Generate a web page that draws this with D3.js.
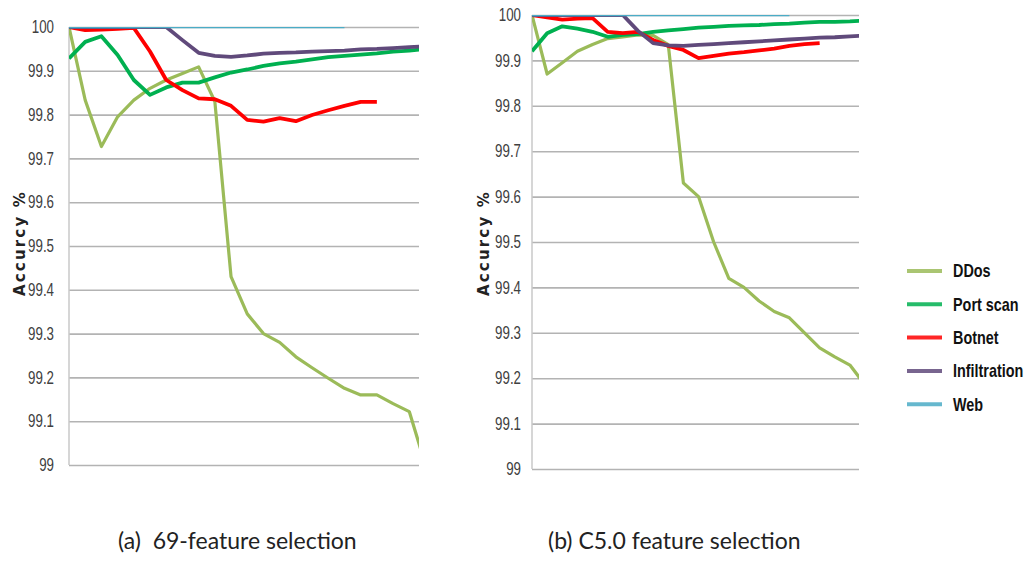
<!DOCTYPE html>
<html>
<head>
<meta charset="utf-8">
<script src="https://cdn.jsdelivr.net/npm/d3@7"></script>
<style>
  body { margin: 0; background: #fff; }
  svg { display: block; }
</style>
</head>
<body>
<div id="chart"></div>
<script>
// feature-selection steps (x categories) and y ticks
const steps = [1, 2, 3, 4, 5, 6, 7, 8, 9, 10, 11, 12, 13, 14, 15, 16, 17, 18, 19, 20, 21, 22, 23];
const yTicks = [99, 99.1, 99.2, 99.3, 99.4, 99.5, 99.6, 99.7, 99.8, 99.9, 100];
const seriesNames = ["DDos", "Port scan", "Botnet", "Infiltration", "Web"];
const seriesColors = ["#9bbb59", "#00b050", "#ff0000", "#604a7b", "#4bacc6"];
const captions = ["(a)  69-feature selection", "(b) C5.0 feature selection"];

// (a) 69-feature selection
const ddosA = [100, 99.833, 99.727, 99.795, 99.833, 99.86, 99.879, 99.894, 99.909, 99.83, 99.43, 99.345, 99.3, 99.28, 99.247, 99.222, 99.198, 99.175, 99.16, 99.16, 99.14, 99.122, 99.0];
const portA = [99.928, 99.966, 99.979, 99.936, 99.879, 99.845, 99.862, 99.873, 99.873, 99.885, 99.896, 99.903, 99.911, 99.917, 99.921, 99.926, 99.931, 99.934, 99.937, 99.94, 99.944, 99.946, 99.95];
const botA = [100, 99.993, 99.994, 99.996, 99.998, 99.944, 99.879, 99.856, 99.837, 99.835, 99.82, 99.788, 99.784, 99.792, 99.785, 99.799, 99.81, 99.82, 99.829, 99.829];
const infA = [100, 100, 100, 100, 100, 100, 100, 99.97, 99.941, 99.934, 99.932, 99.935, 99.939, 99.941, 99.942, 99.944, 99.945, 99.946, 99.949, 99.95, 99.952, 99.954, 99.956];
const webA = [100, 100, 100, 100, 100, 100, 100, 100, 100, 100, 100, 100, 100, 100, 100, 100, 100, 100];

// (b) C5.0 feature selection
const ddosB = [100, 99.87, 99.895, 99.92, 99.935, 99.948, 99.952, 99.956, 99.955, 99.935, 99.63, 99.6, 99.5, 99.42, 99.4, 99.37, 99.347, 99.333, 99.3, 99.267, 99.247, 99.229, 99.185];
const portB = [99.92, 99.96, 99.975, 99.97, 99.963, 99.952, 99.956, 99.958, 99.963, 99.966, 99.969, 99.972, 99.974, 99.976, 99.977, 99.978, 99.98, 99.981, 99.983, 99.985, 99.985, 99.986, 99.988];
const botB = [100, 99.995, 99.99, 99.992, 99.993, 99.963, 99.96, 99.963, 99.945, 99.932, 99.923, 99.905, 99.91, 99.915, 99.918, 99.922, 99.926, 99.932, 99.936, 99.938];
const infB = [100, 100, 100, 100, 100, 100, 100, 99.965, 99.938, 99.933, 99.932, 99.934, 99.936, 99.938, 99.94, 99.942, 99.944, 99.946, 99.948, 99.95, 99.951, 99.953, 99.955];
const webB = [100, 100, 100, 100, 100, 100, 100, 100, 100, 100, 100, 100, 100, 100, 100, 100, 100, 100];

const width = 1032, height = 561;
const narrow = 0.74; // horizontal squeeze to mimic a condensed face

const svg = d3.select("#chart")
    .append("svg")
    .attr("width", width)
    .attr("height", height);

// the panels: plot box in pixels (plot is cut a bit after the 22nd step)
const panels = [
    {left: 69, right: 419, top: 27, bottom: 465, pad: 15, labelX: 20, series: [ddosA, portA, botA, infA, webA], caption: captions[0], capX: 118},
    {left: 532, right: 859, top: 15, bottom: 469, pad: 11, labelX: 484, series: [ddosB, portB, botB, infB, webB], caption: captions[1], capX: 548}
];

panels.forEach(function(p, k) {
    const x = d3.scaleLinear().domain([steps[0], 22.6]).range([p.left, p.right]);
    const y = d3.scaleLinear().domain([99, 100]).range([p.bottom, p.top]);

    const g = svg.append("g");

    // gridlines + tick labels
    const axis = g.append("g")
        .attr("transform", `translate(${p.left},0)`)
        .call(d3.axisLeft(y)
            .tickValues(yTicks)
            .tickSize(-(p.right - p.left))
            .tickFormat(d => String(+d.toFixed(1))));
    axis.select(".domain").remove();
    axis.selectAll(".tick line")
        .attr("stroke", "#b3b3b3")
        .attr("stroke-width", 1.6);
    axis.selectAll(".tick text")
        .attr("x", -p.pad / narrow)
        .attr("transform", `scale(${narrow},1)`)
        .attr("fill", "#404040")
        .attr("font-family", "'Liberation Sans', Arial, sans-serif")
        .attr("font-size", "18px");

    // vertical axis line
    g.append("line")
        .attr("x1", p.left).attr("x2", p.left)
        .attr("y1", y(100)).attr("y2", y(99))
        .attr("stroke", "#c8c8c8")
        .attr("stroke-width", 1.5);

    // clip to the plot box
    g.append("clipPath")
        .attr("id", "clip" + k)
        .append("rect")
        .attr("x", p.left).attr("y", y(100))
        .attr("width", p.right - p.left)
        .attr("height", y(99) - y(100) + 4);

    const line = d3.line()
        .x((d, i) => x(steps[i]))
        .y(d => y(d));

    g.append("g")
        .attr("clip-path", `url(#clip${k})`)
        .selectAll("path")
        .data(p.series)
        .join("path")
        .attr("d", d => line(d))
        .attr("fill", "none")
        .attr("stroke", (d, i) => seriesColors[i])
        .attr("stroke-width", (d, i) => i == 4 ? 2.6 : (i == 0 ? 3.2 : 3.8))
        .attr("stroke-linejoin", "round");

    // y title
    g.append("text")
        .attr("transform", `translate(${p.labelX},243) rotate(-90)`)
        .attr("text-anchor", "middle")
        .attr("dy", "0.35em")
        .attr("font-family", "'DejaVu Sans', sans-serif")
        .attr("font-weight", "bold")
        .attr("font-size", "15px")
        .attr("letter-spacing", "2.2px")
        .attr("fill", "#222")
        .text("Accurcy %");

    // caption under the panel
    svg.append("text")
        .attr("x", p.capX)
        .attr("y", 549)
        .attr("font-family", "Lato, sans-serif")
        .attr("font-size", "23px")
        .attr("fill", "#222")
        .style("white-space", "pre")
        .text(p.caption);
});

// legend
const legend = svg.append("g")
    .attr("transform", "translate(907,271)");

const item = legend.selectAll("g")
    .data(seriesNames)
    .join("g")
    .attr("transform", (d, i) => `translate(0,${i * 33.3})`);

item.append("line")
    .attr("x1", 0).attr("x2", 35)
    .attr("stroke", (d, i) => seriesColors[i])
    .attr("stroke-width", 4)
    .attr("stroke-opacity", 0.85);

item.append("text")
    .attr("transform", "translate(46,0) scale(0.8,1)")
    .attr("dy", "0.35em")
    .attr("font-family", "'Liberation Sans', Arial, sans-serif")
    .attr("font-weight", "bold")
    .attr("font-size", "18px")
    .attr("fill", "#111")
    .text(d => d);
</script>
</body>
</html>
